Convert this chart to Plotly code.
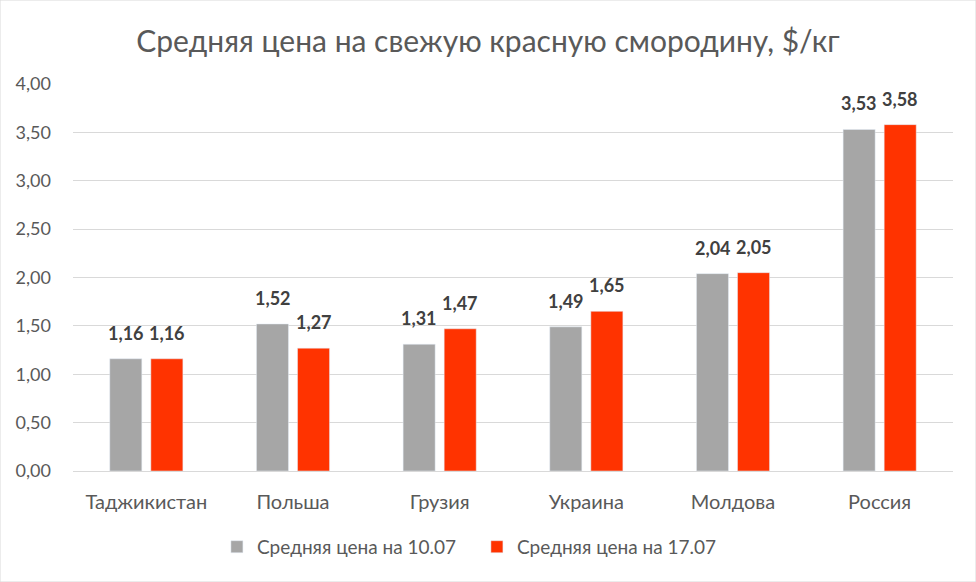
import plotly.graph_objects as go

countries = ["Таджикистан", "Польша", "Грузия", "Украина", "Молдова", "Россия"]
price_1007 = [1.16, 1.52, 1.31, 1.49, 2.04, 3.53]
price_1707 = [1.16, 1.27, 1.47, 1.65, 2.05, 3.58]
series_names = ["Средняя цена на 10.07", "Средняя цена на 17.07"]
y_ticks = [0, 0.5, 1, 1.5, 2, 2.5, 3, 3.5, 4]

FONT = "Lato"
colors = ["#A6A6A6", "#FF3300"]
fig = go.Figure()
for name, vals, col in [(series_names[0], price_1007, colors[0]),
                        (series_names[1], price_1707, colors[1])]:
    fig.add_trace(go.Bar(x=countries, y=vals, name=name, marker_color=col))

# data labels as annotations, shifted to the bar centres
for vals, shift in [(price_1007, -20.5), (price_1707, 20.5)]:
    for c, v in zip(countries, vals):
        fig.add_annotation(x=c, y=v, text=f"{v:.2f}".replace(".", ","),
                           showarrow=False, xshift=shift, yshift=13,
                           yanchor="bottom",
                           font=dict(family=FONT, size=18, color="#404040",
                                     weight="bold"))

fig.update_layout(
    width=976, height=582,
    margin=dict(l=73, r=23, t=84, b=111),
    paper_bgcolor="white", plot_bgcolor="white",
    separators=", ",
    barmode="group", bargap=0.44, bargroupgap=0.22,
    title=dict(text="Средняя цена на свежую красную смородину, $/кг",
               x=0.5, xanchor="center", y=0.928, yanchor="middle",
               font=dict(family=FONT, size=30, color="#595959")),
    font=dict(family=FONT, color="#595959"),
    legend=dict(orientation="h", x=0.459, xanchor="center", y=-0.196, yanchor="middle",
                font=dict(family=FONT, size=19, color="#595959"),
                itemwidth=30, entrywidth=215, entrywidthmode="pixels"),
    showlegend=True,
)
fig.update_yaxes(range=[0, 4], tickvals=y_ticks, tickformat=".2f",
                 gridcolor="#D9D9D9", gridwidth=1, zeroline=False,
                 showline=False, ticks="", ticklen=0, ticklabelstandoff=21,
                 tickfont=dict(family=FONT, size=18, color="#595959"))
fig.update_xaxes(showline=True, linecolor="#D9D9D9", linewidth=1, ticks="",
                 ticklabelstandoff=13,
                 tickfont=dict(family=FONT, size=20, color="#595959"))
fig.add_shape(type="rect", xref="paper", yref="paper",
              x0=-73/880, x1=1+23/880, y0=-111/387, y1=1+84/387,
              line=dict(color="#D9D9D9", width=1))
fig.write_html("out.html")
